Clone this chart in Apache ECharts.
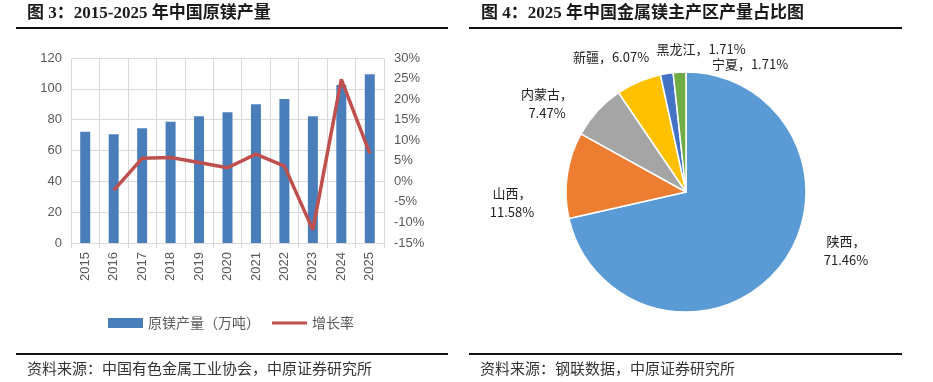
<!DOCTYPE html>
<html>
<head>
<meta charset="utf-8">
<script src="https://cdn.jsdelivr.net/npm/echarts@6/dist/echarts.min.js"></script>
<style>
html,body{margin:0;padding:0;background:#fff;}
#c{width:933px;height:382px;}
</style>
</head>
<body>
<div id="c"></div>
<script>
// ---- data ----
const years = ['2015','2016','2017','2018','2019','2020','2021','2022','2023','2024','2025'];
const output = [72.2, 70.5, 74.4, 78.7, 82.2, 84.8, 90.0, 93.4, 82.2, 102.5, 109.5];
const growth = [null, -2.2, 5.6, 5.8, 4.6, 3.3, 6.6, 3.7, -11.8, 24.8, 6.8];
const regions = ['陕西', '山西', '内蒙古', '新疆', '黑龙江', '宁夏'];
const shares = [71.46, 11.58, 7.47, 6.07, 1.71, 1.71];
const leftTicks = [0, 20, 40, 60, 80, 100, 120];
const rightTicks = [-15, -10, -5, 0, 5, 10, 15, 20, 25, 30];

// ---- style ----
const pieColors = ['#5B9BD5', '#ED7D31', '#A5A5A5', '#FFC000', '#4472C4', '#70AD47'];
const pieLabelPos = [[846, 251], [512, 203], [547, 104], [611, 57], [701, 49], [750, 64]];
const twoLine = [true, true, true, false, false, false];
const sansFont = '"Liberation Sans", Arial, "Noto Sans CJK SC", sans-serif';
const cjkFont = '"Noto Sans CJK SC", sans-serif';
const titleFont = '"Liberation Serif", "Noto Sans CJK SC", serif';

const chart = echarts.init(document.getElementById('c'), null, {renderer: 'canvas'});
chart.setOption({
  animation: false,
  title: [
    {text: '图 3：2015-2025 年中国原镁产量', left: 27, top: 5, padding: 0,
     textStyle: {fontSize: 17, fontWeight: 'bold', color: '#1a1a1a', fontFamily: titleFont}},
    {text: '图 4：2025 年中国金属镁主产区产量占比图', left: 481, top: 5, padding: 0,
     textStyle: {fontSize: 17, fontWeight: 'bold', color: '#1a1a1a', fontFamily: titleFont}}
  ],
  graphic: [
    {type: 'rect', shape: {x: 16, y: 27, width: 432, height: 2}, style: {fill: '#111'}},
    {type: 'rect', shape: {x: 469, y: 27, width: 433, height: 2}, style: {fill: '#111'}},
    {type: 'rect', shape: {x: 16, y: 353, width: 432, height: 2}, style: {fill: '#111'}},
    {type: 'rect', shape: {x: 469, y: 353, width: 433, height: 2}, style: {fill: '#111'}},
    {type: 'text', left: 27, top: 361, style: {text: '资料来源：中国有色金属工业协会，中原证券研究所', fill: '#333', font: '15px "Noto Sans CJK SC", sans-serif'}},
    {type: 'text', left: 480, top: 361, style: {text: '资料来源：钢联数据，中原证券研究所', fill: '#333', font: '15px "Noto Sans CJK SC", sans-serif'}}
  ],
  legend: {
    left: 103, top: 311,
    itemWidth: 35, itemHeight: 10, itemGap: 12,
    textStyle: {fontSize: 14, color: '#595959', fontFamily: cjkFont},
    data: [
      {name: '原镁产量（万吨）', icon: 'rect'},
      {name: '增长率', icon: 'path://M0,0 L0,0 M0,3.5 L35,3.5 L35,6.5 L0,6.5 Z M35,10 L35,10'}
    ]
  },
  grid: {left: 71, top: 58, width: 313, height: 185, containLabel: false},
  xAxis: {
    type: 'category', data: years,
    axisLine: {show: true, lineStyle: {color: '#D9D9D9'}},
    axisTick: {show: true, length: 5, lineStyle: {color: '#D9D9D9'}},
    splitLine: {show: true, lineStyle: {color: '#D9D9D9'}},
    axisLabel: {rotate: 90, fontSize: 13, color: '#595959', margin: 9, fontFamily: sansFont}
  },
  yAxis: [
    {type: 'value', min: leftTicks[0], max: leftTicks[leftTicks.length - 1], interval: 20,
     axisLine: {show: false}, axisTick: {show: false},
     splitLine: {show: true, lineStyle: {color: '#D9D9D9'}},
     axisLabel: {fontSize: 13, color: '#595959', margin: 9, fontFamily: sansFont}},
    {type: 'value', min: rightTicks[0], max: rightTicks[rightTicks.length - 1], interval: 5,
     axisLine: {show: false}, axisTick: {show: false}, splitLine: {show: false},
     axisLabel: {fontSize: 13, color: '#595959', margin: 10, fontFamily: sansFont,
                 formatter: v => v + '%'}}
  ],
  series: [
    {name: '原镁产量（万吨）', type: 'bar', data: output, barWidth: 10,
     itemStyle: {color: '#4A7EBB'}},
    {name: '增长率', type: 'line', yAxisIndex: 1, data: growth,
     symbol: 'none', connectNulls: false,
     lineStyle: {color: '#C0504D', width: 3.5}, itemStyle: {color: '#C0504D'}},
    {name: '占比', type: 'pie', center: [686, 192], radius: 120, startAngle: 90, clockwise: true,
     data: regions.map((r, i) => ({name: r, value: shares[i], itemStyle: {color: pieColors[i]}})),
     itemStyle: {borderColor: '#fff', borderWidth: 1.5},
     label: {show: true, position: 'outside', fontSize: 13, color: '#222', lineHeight: 19,
             fontFamily: cjkFont,
             formatter: p => twoLine[p.dataIndex] ? (p.name + '，\n' + p.value.toFixed(2) + '%') : (p.name + '，' + p.value.toFixed(2) + '%')},
     labelLine: {show: false},
     labelLayout: p => ({x: pieLabelPos[p.dataIndex][0], y: pieLabelPos[p.dataIndex][1], align: 'center', verticalAlign: 'middle'}),
     emphasis: {disabled: true}
    }
  ]
});
</script>
</body>
</html>
